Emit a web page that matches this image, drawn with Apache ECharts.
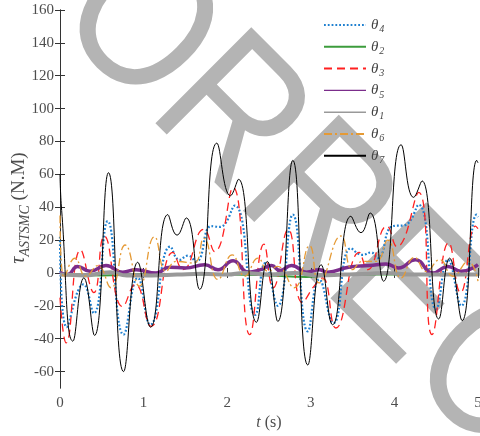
<!DOCTYPE html>
<html>
<head>
<meta charset="utf-8">
<script src="https://cdn.jsdelivr.net/npm/echarts@6/dist/echarts.min.js"></script>
<style>
  html, body { margin: 0; padding: 0; background: #fff; }
  #main { width: 480px; height: 436px; }
</style>
</head>
<body>
<div id="main"></div>
<script>
// joint torques, [t (s), tau (N.M)]
var theta4 = [[0,22],[0.08,-33],[0.28,-7],[0.405,-24.5],[0.57,31.5],[0.76,-37.5],[0.93,-3],[1.08,-31.5],[1.32,16],[1.43,8],[1.53,10.5],[1.63,7],[1.81,28.5],[1.91,28],[2.09,41],[2.335,-25.5],[2.455,6],[2.605,-20],[2.785,35.5],[2.964,-35.5],[3.10,-4],[3.27,-30.5],[3.48,15],[3.62,11],[3.72,12.5],[3.80,9],[3.98,28.5],[4.12,29],[4.29,41.5],[4.50,-22],[4.64,8],[4.80,-20],[4.985,35.5],[5,34]];
var theta2 = [[0,-1],[0.5,-1.5],[1,-1],[1.5,-1],[2,-1],[2.5,-1.5],[2.95,-2.5],[3.2,-1.5],[3.5,-1],[4,-1],[4.5,-1],[5,-1]];
var theta3 = [[0,-15],[0.074,-42.5],[0.245,14],[0.405,-12],[0.53,22.5],[0.75,-20.5],[0.9,-7],[1.09,-32.5],[1.35,12.5],[1.47,2],[1.72,26.5],[1.85,13],[2.07,52],[2.27,-37.5],[2.44,17.5],[2.55,-9],[2.73,26.5],[2.90,-18],[3.04,-8],[3.14,-3],[3.30,-33.5],[3.58,12.5],[3.68,2],[3.91,28.5],[4.03,16],[4.29,49],[4.45,-37.5],[4.65,18.5],[4.79,-12],[4.97,28.5],[5,27]];
var theta5 = [[0,0.5],[0.09,-1],[0.21,4],[0.36,1],[0.55,4.5],[0.75,0.5],[0.91,2],[1.15,0],[1.31,3.5],[1.5,3],[1.73,5],[1.89,2],[2.07,7.5],[2.25,0.5],[2.4,2],[2.53,4.5],[2.63,1.5],[2.77,4.5],[2.95,0.5],[3.1,2],[3.2,0.5],[3.45,3.5],[3.70,4.5],[3.90,5.5],[4.05,3],[4.25,8],[4.46,0],[4.64,4],[4.8,1],[5,5]];
var theta1 = [[0,-1],[0.3,-1.5],[0.6,0.5],[0.8,-1.5],[1.1,-1.5],[1.4,-1],[1.7,-0.5],[2.0,-1],[2.2,0],[2.5,-1],[2.8,0],[3.1,-1.5],[3.4,-1],[3.7,-0.5],[3.9,0],[4.2,-1],[4.6,-1],[5,-1]];
var theta6 = [[0,35],[0.05,-3],[0.18,9],[0.31,-2],[0.45,4.5],[0.61,-9],[0.78,17],[0.95,-8],[1.13,22],[1.27,1],[1.39,7],[1.60,6],[1.72,21],[1.89,-4],[2.06,11],[2.21,-2],[2.37,9],[2.49,1],[2.60,4],[2.80,-9],[2.985,16.5],[3.10,-6],[3.36,22.5],[3.50,2],[3.62,7],[3.78,7],[3.92,20],[4.08,-3],[4.24,9.5],[4.38,1],[4.54,8],[4.70,-2],[4.88,7],[5,-5]];
var theta7 = [[0,60],[0.02,38],[0.155,-41.5],[0.285,-3],[0.413,-38],[0.58,61],[0.76,-60],[0.93,6.5],[1.083,-33],[1.29,35.5],[1.40,23],[1.51,33.5],[1.67,-10],[1.876,79],[2.04,47],[2.135,57],[2.35,-30],[2.48,7],[2.605,-29.5],[2.785,68.5],[2.964,-56],[3.124,5],[3.26,-31.5],[3.48,34.5],[3.60,24.5],[3.71,36.5],[3.87,-5],[4.08,78],[4.23,46],[4.33,56],[4.53,-28],[4.66,9],[4.81,-29],[4.985,68.5],[5,67]];

var seriesNames = ['θ4', 'θ2', 'θ3', 'θ5', 'θ1', 'θ6', 'θ7'];
var yTicks = [-60, -40, -20, 0, 20, 40, 60, 80, 100, 120, 140, 160];

var serif = 'Liberation Serif';
var labelColor = '#4d4d4d';

var chart = echarts.init(document.getElementById('main'));

function lineSeries(name, data, color, width, type) {
  return {
    name: name,
    type: 'line',
    data: data,
    smooth: 0.5,
    symbol: 'none',
    xAxisIndex: 0,
    yAxisIndex: 0,
    itemStyle: { color: color },
    lineStyle: { color: color, width: width, type: type }
  };
}

function tickLabel(v) {
  return '{v|' + v + '}';
}
var tickRich = { v: { fontFamily: serif, fontSize: 15, color: labelColor } };

var option = {
  animation: false,
  backgroundColor: '#fff',
  textStyle: { fontFamily: serif },
  grid: { left: 60, right: 2, top: 10, bottom: 48, outerBoundsMode: 'none', containLabel: false },
  // proof watermark behind the plot
  graphic: [{
    type: 'text',
    x: -173,
    y: -282,
    rotation: -Math.PI / 4,
    scaleX: 0.87,
    z: -10,
    silent: true,
    style: {
      text: 'UNCORRECTED PROOF',
      fontFamily: 'Liberation Sans',
      fontSize: 197,
      fill: '#b4b4b4',
      align: 'left',
      verticalAlign: 'middle'
    }
  }],
  legend: {
    orient: 'vertical',
    left: 318,
    top: 12.5,
    itemWidth: 42,
    itemHeight: 14,
    itemGap: 4.8,
    itemStyle: { opacity: 0 },
    data: seriesNames.map(function (n) {
      if (n === 'θ5' || n === 'θ1') return { name: n, lineStyle: { width: 1.4 } };
      return { name: n };
    }),
    formatter: function (name) {
      return '{a|θ}{b|' + name.slice(1) + '}';
    },
    textStyle: {
      color: '#444',
      fontFamily: serif,
      rich: {
        a: { fontFamily: serif, fontStyle: 'italic', fontSize: 15, color: '#444' },
        b: { fontFamily: serif, fontStyle: 'italic', fontSize: 10, color: '#444', padding: [9, 0, 0, 1] }
      }
    }
  },
  xAxis: [{
    type: 'value', min: 0, max: 5, interval: 1, position: 'bottom',
    axisLine: { show: true, lineStyle: { color: '#808080', width: 1 } },
    axisTick: { show: true, inside: true, length: 5, lineStyle: { color: '#333' } },
    axisLabel: { show: true, margin: 8, formatter: tickLabel, rich: tickRich },
    splitLine: { show: false },
    name: '{i|t}{n| (s)}',
    nameLocation: 'middle',
    nameGap: 27,
    nameMoveOverlap: false,
    nameTextStyle: {
      color: labelColor,
      rich: {
        i: { fontFamily: serif, fontStyle: 'italic', fontSize: 16, color: labelColor },
        n: { fontFamily: serif, fontSize: 16, color: labelColor }
      }
    }
  }, {
    type: 'value', min: 0, max: 5, interval: 1, position: 'top',
    axisLine: { show: true, lineStyle: { color: '#999', width: 1 } },
    axisTick: { show: true, inside: true, length: 5, lineStyle: { color: '#333' } },
    axisLabel: { show: false },
    splitLine: { show: false }
  }],
  yAxis: [{
    type: 'value', min: -70, max: 160, position: 'left',
    axisLine: { show: true, lineStyle: { color: '#333', width: 1 } },
    axisTick: { show: true, inside: true, length: 5, customValues: yTicks, lineStyle: { color: '#333' } },
    axisLabel: { show: true, customValues: yTicks, margin: 6, formatter: tickLabel, rich: tickRich },
    splitLine: { show: false },
    name: '{t|τ}{s|ASTSMC}{n| (N.M)}',
    nameLocation: 'middle',
    nameRotate: 90,
    nameGap: 28,
    nameMoveOverlap: false,
    nameTextStyle: {
      color: labelColor,
      padding: [0, 18, 0, 0],
      rich: {
        t: { fontFamily: serif, fontStyle: 'italic', fontSize: 20, color: labelColor },
        s: { fontFamily: serif, fontStyle: 'italic', fontSize: 14, color: labelColor, padding: [12, 0, 0, 0] },
        n: { fontFamily: serif, fontSize: 19, color: labelColor }
      }
    }
  }, {
    type: 'value', min: -70, max: 160, position: 'right',
    axisLine: { show: true, lineStyle: { color: '#333', width: 1 } },
    axisTick: { show: true, inside: true, length: 5, customValues: yTicks, lineStyle: { color: '#333' } },
    axisLabel: { show: false },
    splitLine: { show: false }
  }],
  series: [
    lineSeries('θ4', theta4, '#1f80d0', 2.2, [1.8, 2]),
    lineSeries('θ2', theta2, '#3c9c3c', 2, 'solid'),
    lineSeries('θ3', theta3, '#ff2020', 1.3, [8, 5]),
    lineSeries('θ5', theta5, '#7b2d8b', 3.5, 'solid'),
    lineSeries('θ1', theta1, '#999999', 4, 'solid'),
    lineSeries('θ6', theta6, '#e59a35', 1.3, [8, 3, 2, 3]),
    lineSeries('θ7', theta7, '#000000', 1, 'solid')
  ]
};

chart.setOption(option);
</script>
</body>
</html>
